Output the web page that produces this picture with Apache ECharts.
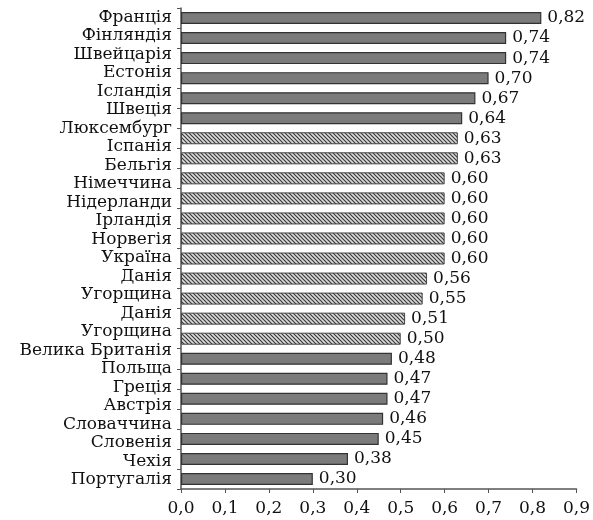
<!DOCTYPE html>
<html>
<head>
<meta charset="utf-8">
<script src="https://cdn.jsdelivr.net/npm/echarts@6/dist/echarts.min.js"></script>
<style>
  html, body { margin: 0; padding: 0; background: #fff; }
  #chart { width: 593px; height: 520px; }
</style>
</head>
<body>
<div id="chart"></div>
<script>
// назви країн (в оригіналі їх 26, а смуг лише 24)
const countries = ['Франція', 'Фінляндія', 'Швейцарія', 'Естонія', 'Ісландія', 'Швеція',
    'Люксембург', 'Іспанія', 'Бельгія', 'Німеччина', 'Нідерланди', 'Ірландія', 'Норвегія',
    'Україна', 'Данія', 'Угорщина', 'Данія', 'Угорщина', 'Велика Британія', 'Польща',
    'Греція', 'Австрія', 'Словаччина', 'Словенія', 'Чехія', 'Португалія'];
const values = [0.82, 0.74, 0.74, 0.70, 0.67, 0.64, 0.63, 0.63, 0.60, 0.60, 0.60, 0.60,
    0.60, 0.56, 0.55, 0.51, 0.50, 0.48, 0.47, 0.47, 0.46, 0.45, 0.38, 0.30];
// смуги з штриховкою
const hatched = [6, 7, 8, 9, 10, 11, 12, 13, 14, 15, 16];

const font = 'DejaVu Serif';

// штриховка
const pat = document.createElement('canvas');
pat.width = 4; pat.height = 4;
const ctx = pat.getContext('2d');
ctx.fillStyle = '#dcdcdc';
ctx.fillRect(0, 0, 4, 4);
ctx.strokeStyle = '#3a3a3a';
ctx.lineWidth = 1.2;
ctx.beginPath();
ctx.moveTo(-1, -1); ctx.lineTo(5, 5);
ctx.moveTo(-1, 3); ctx.lineTo(1, 5);
ctx.moveTo(3, -1); ctx.lineTo(5, 1);
ctx.stroke();

const slots = values.map((v, i) => String(i));

const option = {
    animation: false,
    grid: { left: 181, right: 16, top: 8, bottom: 31 },
    xAxis: {
        type: 'value',
        min: 0, max: 0.9, interval: 0.1,
        axisLine: { show: true, lineStyle: { color: '#555', width: 1.5 } },
        axisTick: { show: true, length: 4, lineStyle: { color: '#555' } },
        splitLine: { show: false },
        axisLabel: {
            color: '#111', fontFamily: font, fontSize: 17, margin: 11,
            formatter: v => v.toFixed(1).replace('.', ',')
        }
    },
    yAxis: [
        {
            type: 'category', inverse: true, data: slots,
            axisLine: { show: true, lineStyle: { color: '#555', width: 1.5 } },
            axisTick: { show: true, length: 4, lineStyle: { color: '#555' } },
            axisLabel: { show: false }
        },
        {
            type: 'category', inverse: true, data: countries, position: 'left',
            axisLine: { show: false }, axisTick: { show: false },
            axisLabel: { interval: 0, color: '#111', fontFamily: font, fontSize: 17, margin: 9 }
        }
    ],
    series: [{
        type: 'bar',
        yAxisIndex: 0,
        barWidth: 12,
        data: values.map((v, i) => ({
            value: v,
            itemStyle: hatched.includes(i)
                ? { color: { image: pat, repeat: 'repeat' }, borderColor: '#444', borderWidth: 1 }
                : { color: '#7b7b7b', borderColor: '#333', borderWidth: 1.2 }
        })),
        label: {
            show: true, position: 'right', distance: 6,
            color: '#111', fontFamily: font, fontSize: 17,
            formatter: p => p.value.toFixed(2).replace('.', ',')
        }
    }]
};

echarts.init(document.getElementById('chart')).setOption(option);
</script>
</body>
</html>
